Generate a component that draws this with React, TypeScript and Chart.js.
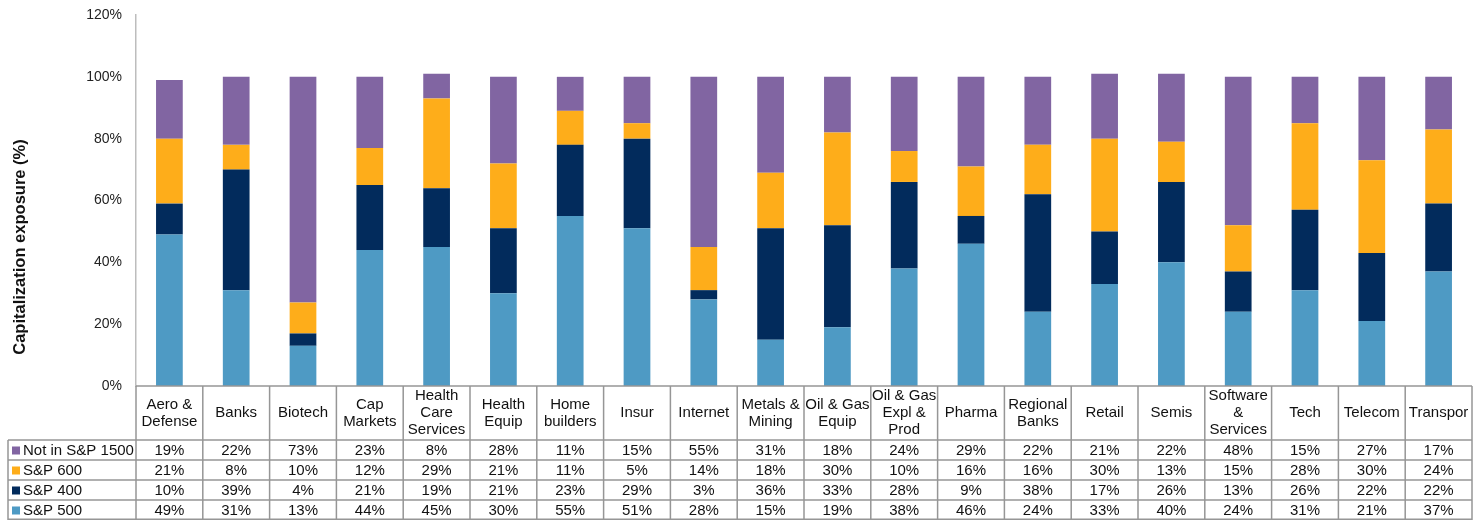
import React, { useEffect, useRef } from "react";
import { Chart, registerables } from "chart.js";

Chart.register(...registerables);

const categories: string[][] = [
  ["Aero &", "Defense"], ["Banks"], ["Biotech"], ["Cap", "Markets"], ["Health", "Care", "Services"],
  ["Health", "Equip"], ["Home", "builders"], ["Insur"], ["Internet"], ["Metals &", "Mining"],
  ["Oil & Gas", "Equip"], ["Oil & Gas", "Expl &", "Prod"], ["Pharma"], ["Regional", "Banks"], ["Retail"],
  ["Semis"], ["Software", "&", "Services"], ["Tech"], ["Telecom"], ["Transpor"],
];

const sp500 = [49, 31, 13, 44, 45, 30, 55, 51, 28, 15, 19, 38, 46, 24, 33, 40, 24, 31, 21, 37];
const sp400 = [10, 39, 4, 21, 19, 21, 23, 29, 3, 36, 33, 28, 9, 38, 17, 26, 13, 26, 22, 22];
const sp600 = [21, 8, 10, 12, 29, 21, 11, 5, 14, 18, 30, 10, 16, 16, 30, 13, 15, 28, 30, 24];
const notIn1500 = [19, 22, 73, 23, 8, 28, 11, 15, 55, 31, 18, 24, 29, 22, 21, 22, 48, 15, 27, 17];

const yTicks = [0, 20, 40, 60, 80, 100, 120];

const seriesNames = ["S&P 500", "S&P 400", "S&P 600", "Not in S&P 1500"];
const seriesColors = ["#4E9AC4", "#022B5C", "#FEAD1A", "#8165A2"];

const FONT = "'Liberation Sans', Arial, sans-serif";

export default function App() {
  const ref = useRef<HTMLCanvasElement | null>(null);

  useEffect(() => {
    const canvas = ref.current;
    if (!canvas) return;
    const seriesData = [sp500, sp400, sp600, notIn1500];

    const tablePlugin = {
      id: "dataTable",
      afterDraw(chart: any) {
        const ctx = chart.ctx as CanvasRenderingContext2D;
        const xs = chart.scales.x;
        const ys = chart.scales.y;
        const n = categories.length;
        const step = (xs.right - xs.left) / n;
        const top = ys.bottom;
        const headerBottom = top + 54;
        const rowH = 20;
        const tableLeft = 8;
        const bottom = headerBottom + rowH * 4;
        ctx.save();
        ctx.strokeStyle = "#969696";
        ctx.lineWidth = 1.5;
        ctx.beginPath();
        ctx.moveTo(xs.left, top);
        ctx.lineTo(xs.right, top);
        for (let r = 0; r <= 4; r++) {
          const yy = Math.min(headerBottom + r * rowH, 519.2);
          ctx.moveTo(tableLeft, yy);
          ctx.lineTo(xs.right, yy);
        }
        for (let i = 0; i <= n; i++) {
          const xx = xs.left + i * step;
          ctx.moveTo(xx, top);
          ctx.lineTo(xx, bottom);
        }
        ctx.moveTo(tableLeft, headerBottom);
        ctx.lineTo(tableLeft, bottom);
        ctx.stroke();

        ctx.fillStyle = "#111";
        ctx.font = `15px ${FONT}`;
        ctx.textAlign = "center";
        ctx.textBaseline = "middle";
        const lh = 17;
        for (let i = 0; i < n; i++) {
          const cx = xs.getPixelForValue(i);
          const lines = categories[i];
          const cy = (top + headerBottom) / 2;
          const start = cy - ((lines.length - 1) * lh) / 2;
          lines.forEach((l, k) => ctx.fillText(l, cx, start + k * lh));
        }
        const order = [3, 2, 1, 0];
        order.forEach((si, r) => {
          const cy = headerBottom + r * rowH + rowH / 2 + 0.5;
          ctx.fillStyle = seriesColors[si];
          ctx.fillRect(12, cy - 4, 8, 8);
          ctx.fillStyle = "#111";
          ctx.textAlign = "left";
          ctx.fillText(seriesNames[si], 23, cy);
          ctx.textAlign = "center";
          const vals = seriesData[si];
          for (let i = 0; i < n; i++) {
            ctx.fillText(vals[i] + "%", xs.getPixelForValue(i), cy);
          }
        });
        ctx.save();
        ctx.translate(20, 247);
        ctx.rotate(-Math.PI / 2);
        ctx.font = `bold 16.5px ${FONT}`;
        ctx.textAlign = "center";
        ctx.fillStyle = "#111";
        ctx.fillText("Capitalization exposure (%)", 0, 0);
        ctx.restore();
        ctx.restore();
      },
    };

    const chart = new Chart(canvas, {
      type: "bar",
      data: {
        labels: categories.map((c) => c.join(" ")),
        datasets: seriesData.map((d, i) => ({
          label: seriesNames[i],
          data: d,
          backgroundColor: seriesColors[i],
          borderWidth: 0,
          categoryPercentage: 1,
          barPercentage: 0.4,
        })),
      },
      options: {
        responsive: false,
        animation: false,
        layout: { padding: { top: 15, bottom: 134, left: 0, right: 10 } },
        plugins: { legend: { display: false }, tooltip: { enabled: false } },
        scales: {
          x: { stacked: true, display: false },
          y: {
            stacked: true,
            min: 0,
            max: 120,
            afterFit: (s: any) => { s.width = 136; s.paddingTop = 0; s.paddingBottom = 0; },
            afterBuildTicks: (s: any) => { s.ticks = yTicks.map((v) => ({ value: v })); },
            grid: { display: false, drawTicks: false },
            border: { display: true, color: "#bdbdbd", width: 1.5 },
            ticks: {
              padding: 14,
              color: "#222",
              font: { family: FONT, size: 14 },
              callback: (v: any) => v + "%",
            },
          },
        },
      },
      plugins: [tablePlugin],
    });
    return () => chart.destroy();
  }, []);

  return (
    <div style={{ position: "absolute", left: 0, top: 0, width: 1482, height: 520, background: "#fff" }}>
      <canvas ref={ref} width={1482} height={520} style={{ width: 1482, height: 520 }} />
    </div>
  );
}
